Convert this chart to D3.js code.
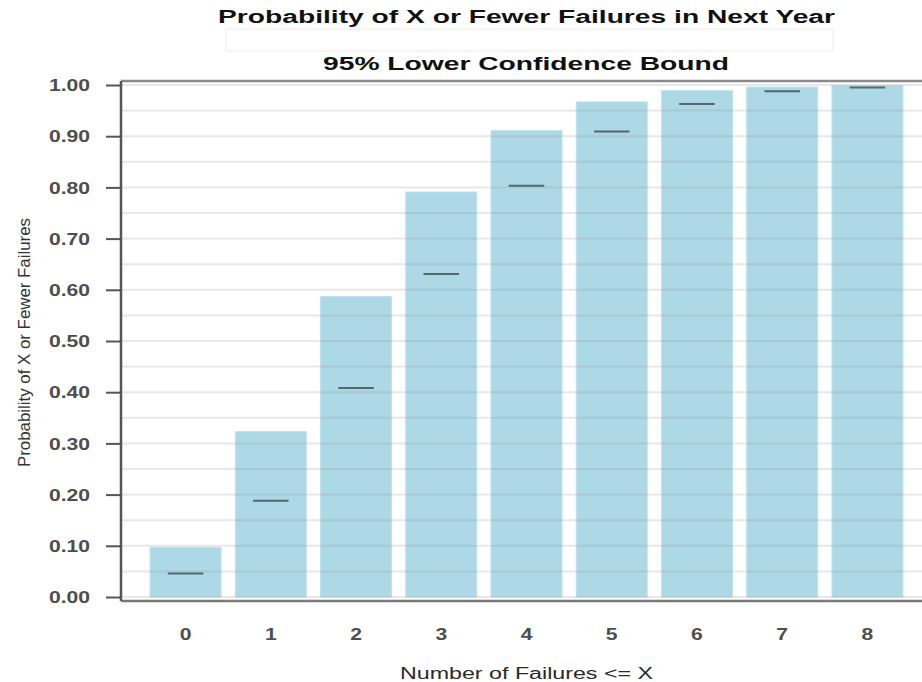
<!DOCTYPE html>
<html>
<head>
<meta charset="utf-8">
<script src="https://cdn.jsdelivr.net/npm/d3@7"></script>
<style>
  body { margin: 0; background: #fff; }
  text { font-family: "Liberation Sans", Arial, sans-serif; }
</style>
</head>
<body>
<div id="visualization"></div>
<script>
// chart data
const failures = ["0", "1", "2", "3", "4", "5", "6", "7", "8"];
const probability = [0.097, 0.323, 0.587, 0.791, 0.911, 0.967, 0.989, 0.996, 0.999];
const lowerBound = [0.046, 0.188, 0.408, 0.631, 0.803, 0.909, 0.963, 0.988, 0.995];
const yTicks = [0, 0.1, 0.2, 0.3, 0.4, 0.5, 0.6, 0.7, 0.8, 0.9, 1.0];
const gridValues = d3.range(0, 1.0001, 0.05);

const width = 922;
const height = 682;
const stretch = 1.32; // the picture is squashed wider than normal text

const svg = d3.select("#visualization")
    .append("svg")
    .attr("width", width)
    .attr("height", height);

const xScale = d3.scaleBand()
    .domain(failures)
    .range([143, 910])
    .paddingInner(0.167)
    .paddingOuter(0.083);

const yScale = d3.scaleLinear()
    .domain([0, 1])
    .range([597, 85]);

// titles
svg.append("rect")
    .attr("x", 226).attr("y", 29)
    .attr("width", 607).attr("height", 22)
    .attr("fill", "none")
    .attr("stroke", "#ececec");

svg.append("text")
    .attr("x", 218).attr("y", 23)
    .attr("textLength", 617)
    .attr("lengthAdjust", "spacingAndGlyphs")
    .style("font-size", "18px")
    .style("font-weight", "bold")
    .attr("fill", "#111")
    .text("Probability of X or Fewer Failures in Next Year");

svg.append("text")
    .attr("x", 323).attr("y", 70)
    .attr("textLength", 406)
    .attr("lengthAdjust", "spacingAndGlyphs")
    .style("font-size", "18px")
    .style("font-weight", "bold")
    .attr("fill", "#111")
    .text("95% Lower Confidence Bound");

// bars
svg.selectAll("rect.bar")
    .data(probability)
    .enter().append("rect")
    .attr("class", "bar")
    .attr("x", (d, i) => xScale(failures[i]))
    .attr("y", d => yScale(d))
    .attr("width", xScale.bandwidth())
    .attr("height", d => yScale(0) - yScale(d))
    .attr("fill", "#add8e6")
    .attr("stroke", "#bfe2ee")
    .attr("stroke-width", 1);

// grid drawn over the bars, faint
svg.append("g")
    .selectAll("line")
    .data(gridValues)
    .enter().append("line")
    .attr("x1", 121).attr("x2", width)
    .attr("y1", d => yScale(d)).attr("y2", d => yScale(d))
    .attr("stroke", "rgb(150,150,150)")
    .attr("stroke-opacity", 0.22)
    .attr("stroke-width", 2);

// lower confidence bound marks
svg.selectAll("line.lcb")
    .data(lowerBound)
    .enter().append("line")
    .attr("class", "lcb")
    .attr("x1", (d, i) => xScale(failures[i]) + xScale.bandwidth() * 0.25)
    .attr("x2", (d, i) => xScale(failures[i]) + xScale.bandwidth() * 0.75)
    .attr("y1", d => yScale(d))
    .attr("y2", d => yScale(d))
    .attr("stroke", "#56666c")
    .attr("stroke-width", 2);

// frame top and bottom
svg.append("line")
    .attr("x1", 121).attr("x2", width)
    .attr("y1", 81).attr("y2", 81)
    .attr("stroke", "#8a8a8a").attr("stroke-width", 2.5);

svg.append("line")
    .attr("x1", 121).attr("x2", width)
    .attr("y1", 601).attr("y2", 601)
    .attr("stroke", "#7a7a7a").attr("stroke-width", 2.5);

// y axis
const yAxis = svg.append("g")
    .attr("transform", "translate(121,0)")
    .call(d3.axisLeft(yScale).tickValues(yTicks).tickFormat(d3.format(".2f")).tickSize(15).tickSizeOuter(0));

yAxis.select(".domain")
    .attr("d", "M0,81V601")
    .attr("stroke", "#555")
    .attr("stroke-width", 2.5);
yAxis.selectAll(".tick line").attr("stroke", "#555").attr("stroke-width", 2);
yAxis.selectAll(".tick text")
    .attr("x", -31 / stretch)
    .attr("dy", "0.36em")
    .attr("transform", `scale(${stretch},1)`)
    .attr("fill", "#4d4d4d")
    .style("font-size", "16px")
    .style("font-weight", "bold")
    .style("font-family", "'Liberation Sans', Arial, sans-serif");

// x axis
const xAxis = svg.append("g")
    .attr("transform", "translate(0,601)")
    .call(d3.axisBottom(xScale).tickSize(0));

xAxis.select(".domain").remove();
xAxis.selectAll(".tick").each(function() {
    const t = d3.select(this);
    const tx = +t.attr("transform").match(/translate\(([-\d.]+)/)[1];
    t.attr("transform", `translate(${tx},0) scale(${stretch},1)`);
});
xAxis.selectAll(".tick text")
    .attr("y", 39)
    .attr("dy", 0)
    .attr("fill", "#4d4d4d")
    .style("font-size", "16px")
    .style("font-weight", "bold")
    .style("font-family", "'Liberation Sans', Arial, sans-serif");

// axis titles
svg.append("text")
    .attr("x", 400).attr("y", 679)
    .attr("textLength", 253)
    .attr("lengthAdjust", "spacingAndGlyphs")
    .style("font-size", "16px")
    .attr("fill", "#2a2a2a")
    .text("Number of Failures <= X");

svg.append("text")
    .attr("transform", "translate(30,467) rotate(-90)")
    .attr("textLength", 249)
    .attr("lengthAdjust", "spacingAndGlyphs")
    .style("font-size", "17px")
    .style("font-family", "'Liberation Sans Narrow', 'Liberation Sans', Arial, sans-serif")
    .attr("fill", "#333")
    .text("Probability of X or Fewer Failures");
</script>
</body>
</html>
